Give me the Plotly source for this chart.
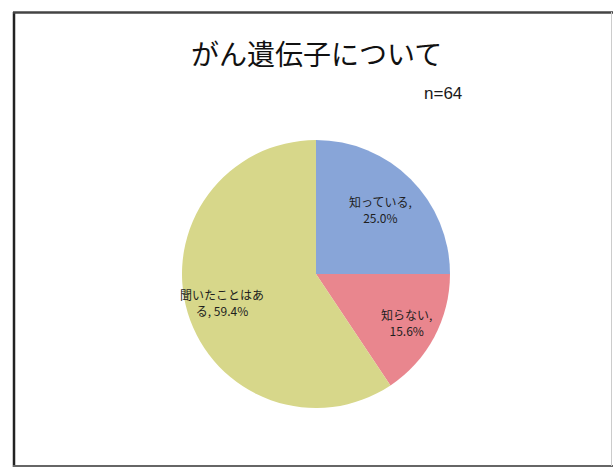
import math
import plotly.graph_objects as go

# Data
labels = ["知っている", "知らない", "聞いたことはある"]
label_text = ["知っている,<br>25.0%", "知らない,<br>15.6%", "聞いたことはあ<br>る, 59.4%"]
counts = [16, 10, 38]
colors = ["#88a5d8", "#e9868e", "#d7d78a"]
title_text = "がん遺伝子について"
n_text = "n=64"

W, H = 613, 468
cx_px, cy_px, r_px = 316, 274, 134
label_rfrac = [0.68, 0.77, 0.73]

fig = go.Figure()
fig.add_trace(go.Pie(
    labels=labels,
    values=counts,
    sort=False,
    direction="clockwise",
    rotation=0,
    marker=dict(colors=colors, line=dict(width=0)),
    textinfo="none",
    hoverinfo="label+percent",
    showlegend=False,
    domain=dict(x=[(cx_px - r_px) / W, (cx_px + r_px) / W],
                y=[1 - (cy_px + r_px) / H, 1 - (cy_px - r_px) / H]),
))

# label annotations computed from the data (mid-angle of each slice)
total = sum(counts)
cum = 0
for v, t, rf in zip(counts, label_text, label_rfrac):
    mid = (cum + v / 2) / total
    cum += v
    ang = math.pi / 2 - 2 * math.pi * mid
    x = cx_px + rf * r_px * math.cos(ang)
    y = cy_px - rf * r_px * math.sin(ang)
    fig.add_annotation(x=x / W, y=1 - y / H, xref="paper", yref="paper",
                       xanchor="center", yanchor="middle",
                       text=t, showarrow=False, align="center",
                       font=dict(family="Noto Sans CJK JP", size=12, color="#1e1e1e"))

fig.add_annotation(x=316 / W, y=1 - 53 / H, xref="paper", yref="paper",
                   xanchor="center", yanchor="middle",
                   text=title_text, showarrow=False,
                   font=dict(family="Noto Sans CJK JP", size=28, color="#111111"))
fig.add_annotation(x=443 / W, y=1 - 94 / H, xref="paper", yref="paper",
                   xanchor="center", yanchor="middle",
                   text=n_text, showarrow=False,
                   font=dict(family="Liberation Sans, Arial", size=17, color="#1a1a1a"))

# slide frame
fig.add_shape(type="line", xref="paper", yref="paper", x0=14 / W, x1=14 / W,
              y0=1 - 467 / H, y1=1 - 12 / H, line=dict(color="#222222", width=2.5))
fig.add_shape(type="line", xref="paper", yref="paper", x0=13 / W, x1=1,
              y0=1 - 12.5 / H, y1=1 - 12.5 / H, line=dict(color="#444444", width=2.5))
fig.add_shape(type="line", xref="paper", yref="paper", x0=13 / W, x1=1,
              y0=1 - 466 / H, y1=1 - 466 / H, line=dict(color="#666666", width=2))
fig.add_shape(type="line", xref="paper", yref="paper", x0=611.5 / W, x1=611.5 / W,
              y0=1 - 466 / H, y1=1 - 12 / H, line=dict(color="#cccccc", width=1))

fig.update_layout(
    width=W, height=H,
    margin=dict(l=0, r=0, t=0, b=0),
    paper_bgcolor="white",
    plot_bgcolor="white",
)

fig.write_html("out.html")
